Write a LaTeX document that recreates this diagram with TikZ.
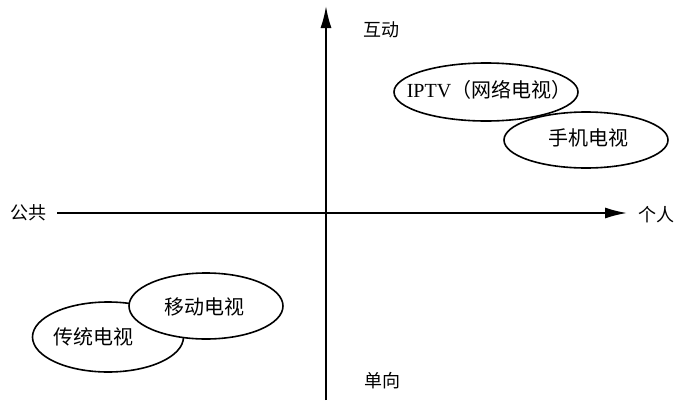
\documentclass[tikz,border=0pt]{standalone}
\usepackage{fontspec}
\setmainfont{Liberation Serif}
\newfontfamily\cjk{Noto Sans CJK SC}
\usetikzlibrary{shapes.geometric,arrows.meta}
\tikzset{
  axis/.style={line width=1.8pt,-{Latex[length=22pt,width=11pt]}},
  oval/.style={ellipse,draw,line width=1.6pt,fill=white,inner sep=0pt},
  ovaltext/.style={inner sep=0pt,font=\fontsize{20}{24}\selectfont\cjk},
  axlabel/.style={font=\fontsize{18}{22}\selectfont\cjk,inner sep=0pt}
}
\begin{document}
\begin{tikzpicture}[x=1pt,y=-1pt]
\useasboundingbox (0,0) rectangle (686,400);
\coordinate (hl) at (57,213);
\coordinate (hr) at (627,213);
\coordinate (vb) at (326,400);
\coordinate (vt) at (326,6);
\draw[axis] (hl) -- (hr);
\draw[axis] (vb) -- (vt);
\node[axlabel] (pub) at (28,213) {公共};
\node[axlabel] (ind) at (656,215) {个人};
\node[axlabel] (inter) at (381,30) {互动};
\node[axlabel] (one) at (382,381) {单向};
\node[oval,minimum width=164pt,minimum height=56pt] (phone) at (586,140) {};
\node[ovaltext] (phonet) at (588,138) {手机电视};
\node[oval,minimum width=184pt,minimum height=58pt] (iptv) at (486,92) {};
\node[ovaltext] (iptvt) at (489,90) {{\rmfamily IPTV}（网络电视）};
\node[oval,minimum width=151pt,minimum height=70pt] (trad) at (108,337) {};
\node[ovaltext] (tradt) at (93,337) {传统电视};
\node[oval,minimum width=154pt,minimum height=66pt] (mob) at (206,306) {};
\node[ovaltext] (mobt) at (204,307) {移动电视};
\end{tikzpicture}
\end{document}
